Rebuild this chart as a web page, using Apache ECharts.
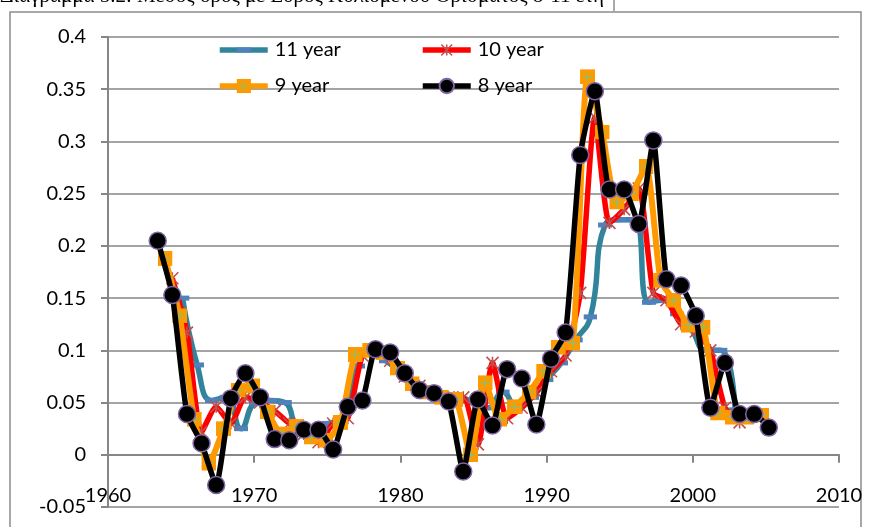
<!DOCTYPE html>
<html>
<head>
<meta charset="utf-8">
<script src="https://cdn.jsdelivr.net/npm/echarts@6/dist/echarts.min.js"></script>
<style>
  html, body { margin: 0; padding: 0; background: #fff; }
  #chart { width: 870px; height: 527px; }
</style>
</head>
<body>
<div id="chart"></div>
<script>
// Rolling-window mean, window lengths 8 to 11 years
const titleText = 'Διάγραμμα 5.2: Μέσος όρος με Εύρος Κυλιόμενου Ορίσματος 8-11 ετη';

const seriesNames = ['11 year', '10 year', '9 year', '8 year'];

const years11 = [1965.1, 1966.1, 1967.1, 1968.1, 1969.1, 1970.1, 1971.1, 1972.1, 1973.1, 1974.1,
  1975.1, 1976.1, 1977.1, 1978.0, 1979.0, 1980.0, 1981.0, 1982.0, 1983.0, 1984.0,
  1985.0, 1986.0, 1987.0, 1988.0, 1989.0, 1990.0, 1991.0, 1992.0, 1993.0, 1994.0,
  1995.0, 1996.0, 1997.0, 1997.9, 1998.9, 1999.9, 2000.9, 2001.9, 2002.9];
const values11 = [0.150, 0.086, 0.052, 0.055, 0.025, 0.050, 0.052, 0.050, 0.025, 0.025,
  0.030, 0.035, 0.085, 0.100, 0.090, 0.080, 0.068, 0.062, 0.055, 0.055,
  0.050, 0.045, 0.060, 0.045, 0.055, 0.072, 0.088, 0.110, 0.132, 0.220,
  0.225, 0.225, 0.146, 0.148, 0.135, 0.120, 0.100, 0.100, 0.043];

const years10 = [1964.4, 1965.4, 1966.4, 1967.4, 1968.4, 1969.4, 1970.4, 1971.4, 1972.4, 1973.4,
  1974.4, 1975.4, 1976.4, 1977.4, 1978.3, 1979.3, 1980.3, 1981.3, 1982.3, 1983.3,
  1984.3, 1985.3, 1986.3, 1987.3, 1988.3, 1989.3, 1990.3, 1991.3, 1992.3, 1993.3,
  1994.3, 1995.3, 1996.3, 1997.3, 1998.2, 1999.2, 2000.2, 2001.2, 2002.2, 2003.2];
const values10 = [0.169, 0.117, 0.022, 0.046, 0.030, 0.055, 0.050, 0.042, 0.030, 0.020,
  0.012, 0.030, 0.035, 0.095, 0.100, 0.090, 0.075, 0.066, 0.060, 0.055,
  0.055, 0.010, 0.088, 0.035, 0.045, 0.060, 0.080, 0.095, 0.155, 0.323,
  0.222, 0.235, 0.255, 0.155, 0.148, 0.125, 0.118, 0.100, 0.045, 0.031];

const years9 = [1963.9, 1964.9, 1965.9, 1966.9, 1967.9, 1968.9, 1969.9, 1970.9, 1971.9, 1972.9,
  1973.9, 1974.9, 1975.9, 1976.9, 1977.9, 1978.8, 1979.8, 1980.8, 1981.8, 1982.8,
  1983.8, 1984.8, 1985.8, 1986.8, 1987.8, 1988.8, 1989.8, 1990.8, 1991.8, 1992.8,
  1993.8, 1994.8, 1995.8, 1996.8, 1997.8, 1998.7, 1999.7, 2000.7, 2001.7, 2002.7,
  2003.7, 2004.7];
const values9 = [0.188, 0.133, 0.034, -0.008, 0.025, 0.062, 0.066, 0.041, 0.020, 0.027,
  0.017, 0.014, 0.031, 0.096, 0.100, 0.098, 0.083, 0.068, 0.060, 0.055,
  0.053, 0.000, 0.069, 0.034, 0.046, 0.060, 0.080, 0.103, 0.107, 0.362,
  0.309, 0.242, 0.250, 0.276, 0.167, 0.148, 0.124, 0.122, 0.040, 0.036,
  0.036, 0.038];

const years8 = [1963.4, 1964.4, 1965.4, 1966.4, 1967.4, 1968.4, 1969.4, 1970.4, 1971.4, 1972.4,
  1973.4, 1974.4, 1975.4, 1976.4, 1977.4, 1978.3, 1979.3, 1980.3, 1981.3, 1982.3,
  1983.3, 1984.3, 1985.3, 1986.3, 1987.3, 1988.3, 1989.3, 1990.3, 1991.3, 1992.3,
  1993.3, 1994.3, 1995.3, 1996.3, 1997.3, 1998.2, 1999.2, 2000.2, 2001.2, 2002.2,
  2003.2, 2004.2, 2005.2];
const values8 = [0.205, 0.153, 0.039, 0.011, -0.029, 0.054, 0.078, 0.055, 0.015, 0.014,
  0.024, 0.024, 0.005, 0.046, 0.052, 0.101, 0.098, 0.078, 0.062, 0.059,
  0.051, -0.016, 0.053, 0.028, 0.082, 0.073, 0.029, 0.092, 0.117, 0.287,
  0.348, 0.254, 0.254, 0.221, 0.301, 0.168, 0.162, 0.133, 0.045, 0.088,
  0.039, 0.039, 0.026];

const pairs = (xs, ys) => xs.map((x, i) => [x, ys[i]]);

const svgIcon = svg => 'image://data:image/svg+xml;charset=utf-8,' + encodeURIComponent(svg);
const dashIcon = svgIcon(
  "<svg xmlns='http://www.w3.org/2000/svg' width='14' height='14' viewBox='0 0 14 14'>" +
  "<rect x='0' y='4.5' width='14' height='5' fill='#4F81BD'/></svg>");
const starIcon = svgIcon(
  "<svg xmlns='http://www.w3.org/2000/svg' width='16' height='16' viewBox='0 0 16 16'>" +
  "<path d='M2 2L14 14M14 2L2 14M8 2V14' stroke='#C0504D' stroke-width='1.6' fill='none'/></svg>");
const plusSquareIcon = svgIcon(
  "<svg xmlns='http://www.w3.org/2000/svg' width='15' height='15' viewBox='0 0 15 15'>" +
  "<rect width='15' height='15' fill='#FF9900'/>" +
  "<path d='M7.5 2.5V12.5M2.5 7.5H12.5' stroke='#9BBB59' stroke-width='1.5'/></svg>");

const FONT = 'Lato';
const gray = '#868686';

const chart = echarts.init(document.getElementById('chart'), null, { renderer: 'canvas' });

chart.setOption({
  animation: false,
  backgroundColor: '#fff',
  textStyle: { fontFamily: FONT },
  grid: { left: 108, right: 31, top: 37, bottom: 20, containLabel: false, outerBoundsMode: 'none' },
  graphic: [
    {
      type: 'rect', silent: true, z: -1,
      shape: { x: 10, y: 12, width: 851, height: 540 },
      style: { fill: 'none', stroke: '#8c8c8c', lineWidth: 1.5 }
    },
    {
      type: 'text', left: 0, top: -14, silent: true,
      style: { text: titleText, font: '21px "Liberation Serif", "DejaVu Serif", serif', fill: '#000' }
    },
    {
      type: 'line', silent: true,
      shape: { x1: 614, y1: 0, x2: 614, y2: 11 },
      style: { stroke: '#555', lineWidth: 1 }
    }
  ],
  legend: [
    { data: [seriesNames[0]], left: 217, top: 40 },
    { data: [seriesNames[1]], left: 420, top: 40 },
    { data: [seriesNames[2]], left: 217, top: 76 },
    { data: [seriesNames[3]], left: 420, top: 76 }
  ].map(l => Object.assign({
    itemWidth: 48, itemHeight: 18, itemGap: 0, selectedMode: false, padding: 0,
    lineStyle: { width: 5.5 },
    textStyle: { fontSize: 20, fontFamily: FONT, color: '#000', padding: [0, 0, 0, 2] }
  }, l)),
  xAxis: {
    type: 'value', min: 1960, max: 2010, interval: 10,
    axisLine: { onZero: true, lineStyle: { color: gray, width: 2 } },
    axisTick: { show: true, length: 8, lineStyle: { color: gray, width: 2 } },
    axisLabel: { margin: -21, fontSize: 20, color: '#000', fontFamily: FONT, formatter: v => String(v) },
    splitLine: { show: false }
  },
  yAxis: {
    type: 'value', min: -0.05, max: 0.4, interval: 0.05,
    axisLine: { show: true, onZero: false, lineStyle: { color: gray, width: 2 } },
    axisTick: { show: true, length: 7, lineStyle: { color: gray, width: 2 } },
    axisLabel: {
      margin: 22, fontSize: 20, color: '#000', fontFamily: FONT,
      formatter: v => String(parseFloat(v.toFixed(2)))
    },
    splitLine: { show: true, lineStyle: { color: gray, width: 1.5 } }
  },
  series: [
    {
      name: seriesNames[0], type: 'line', z: 2, smooth: 0.5,
      data: pairs(years11, values11),
      symbol: dashIcon, symbolSize: 14,
      lineStyle: { color: '#31849B', width: 5.5 },
      itemStyle: { color: '#31849B' }
    },
    {
      name: seriesNames[1], type: 'line', z: 3, smooth: 0.2,
      data: pairs(years10, values10),
      symbol: starIcon, symbolSize: 16,
      lineStyle: { color: '#FF0000', width: 5.5 },
      itemStyle: { color: '#FF0000' }
    },
    {
      name: seriesNames[2], type: 'line', z: 4, smooth: 0.2,
      data: pairs(years9, values9),
      symbol: plusSquareIcon, symbolSize: 15,
      lineStyle: { color: '#FF9900', width: 6 },
      itemStyle: { color: '#FF9900' }
    },
    {
      name: seriesNames[3], type: 'line', z: 5, smooth: 0.15,
      data: pairs(years8, values8),
      symbol: 'circle', symbolSize: 17,
      lineStyle: { color: '#000000', width: 5.5 },
      itemStyle: { color: '#000000', borderColor: '#7F66A6', borderWidth: 1.5 }
    }
  ]
});
</script>
</body>
</html>
